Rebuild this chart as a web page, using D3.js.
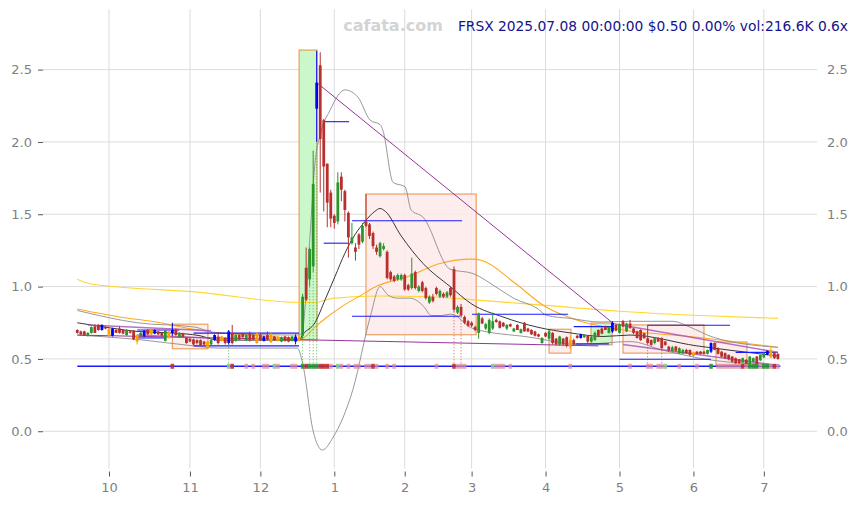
<!DOCTYPE html>
<html><head><meta charset="utf-8">
<script src="https://cdn.jsdelivr.net/npm/d3@7"></script>
<style>
html,body{margin:0;padding:0;background:#fff;}
svg{display:block;font-family:"DejaVu Sans",sans-serif;}
</style></head>
<body><svg id="c" width="858" height="505"></svg>
<script>
// ---------------- data ----------------
const monthLabels = ["10","11","12","1","2","3","4","5","6","7"];
const monthIdx    = [9,32,52,73,93,112,133,154,175,195];
const yTicks = [0,0.5,1.0,1.5,2.0,2.5];

const kind = "rrrggrrbro" + "brrrgrrogb" + "robrrgobrg" + "rrrrrrrogb" + "rorbrgrrgr" + "rorbrorogr" + "rgbo"
           + "grggbrrrrr" + "grrrgrrgrr" + "rrggrrrggr" + "rgrgrrgrrg" + "rgrrgrrrrr"
           + "grgggrrrgr" + "grgrrrrrgr" + "grrgrrorrb" + "grggrrrgbr" + "grgrrr"
           + "rrrrgrrrrg" + "rggrrorrrg" + "b"
           + "rrrrrrrrgr" + "ggrggborr";
const open  = [0.70,0.69,0.69,0.66,0.68,0.725,0.735,0.70,0.72,0.71,0.66,0.70,0.71,0.70,0.665,0.69,0.695,0.665,0.66,0.66,0.70,0.70,0.675,0.69,0.68,0.625,0.69,0.68,0.70,0.65,0.675,0.645,0.64,0.635,0.63,0.63,0.62,0.62,0.60,0.63,0.655,0.655,0.645,0.61,0.68,0.625,0.665,0.675,0.63,0.675,0.665,0.678,0.665,0.655,0.665,0.672,0.655,0.654,0.62,0.655,0.65,0.625,0.62,0.655,
  0.66,1.13,1.05,1.14,2.23,2.53,2.15,1.85,1.65,1.49,1.45,1.76,1.66,1.51,1.30,1.27,1.36,1.31,1.45,1.43,1.37,1.27,1.21,1.26,1.24,1.10,1.07,1.05,1.05,1.08,1.01,0.99,1.10,0.97,1.03,0.99,0.89,0.93,0.99,0.93,0.95,0.93,0.99,1.12,0.82,0.86,0.79,0.76,0.75,0.72,
  0.68,0.78,0.71,0.68,0.71,0.77,0.76,0.75,0.71,0.74,0.69,0.735,0.68,0.75,0.71,0.70,0.69,0.67,0.61,0.68,0.64,0.68,0.64,0.60,0.64,0.65,0.63,0.63,0.66,0.645,0.65,0.66,0.62,0.63,0.70,0.71,0.725,0.68,0.69,0.735,0.68,0.76,0.69,0.745,0.71,0.69,
  0.70,0.678,0.643,0.63,0.61,0.643,0.643,0.62,0.585,0.555,0.585,0.54,0.54,0.562,0.562,0.544,0.55,0.55,0.55,0.535,0.55,
  0.61,0.574,0.55,0.54,0.528,0.516,0.505,0.498,0.475,0.493,0.466,0.48,0.516,0.49,0.51,0.53,0.51,0.54,0.535];
const high  = [0.705,0.695,0.695,0.685,0.725,0.74,0.74,0.74,0.73,0.715,0.715,0.705,0.725,0.705,0.705,0.70,0.70,0.67,0.685,0.70,0.705,0.705,0.705,0.695,0.685,0.70,0.695,0.75,0.71,0.685,0.68,0.65,0.645,0.64,0.635,0.635,0.625,0.625,0.635,0.67,0.685,0.66,0.65,0.70,0.735,0.67,0.67,0.68,0.67,0.69,0.67,0.685,0.675,0.66,0.69,0.68,0.66,0.66,0.655,0.66,0.655,0.66,0.67,0.66,
  0.95,1.27,1.27,1.94,2.63,2.62,2.16,1.85,1.67,1.50,1.79,1.79,1.67,1.52,1.44,1.30,1.37,1.44,1.64,1.44,1.38,1.29,1.31,1.30,1.25,1.11,1.08,1.09,1.09,1.09,1.02,1.20,1.11,1.01,1.04,1.00,0.94,0.95,1.00,0.98,0.96,0.97,1.00,1.14,0.87,0.88,0.80,0.77,0.76,0.73,
  0.82,0.79,0.75,0.78,0.82,0.78,0.765,0.755,0.74,0.745,0.715,0.74,0.71,0.755,0.715,0.705,0.695,0.675,0.65,0.685,0.70,0.685,0.645,0.66,0.645,0.655,0.66,0.64,0.665,0.675,0.67,0.665,0.66,0.69,0.705,0.72,0.73,0.725,0.76,0.74,0.745,0.77,0.75,0.77,0.715,0.695,
  0.705,0.68,0.735,0.635,0.65,0.65,0.65,0.625,0.59,0.59,0.59,0.58,0.57,0.57,0.565,0.55,0.555,0.555,0.555,0.565,0.615,
  0.615,0.58,0.555,0.545,0.53,0.52,0.51,0.50,0.51,0.50,0.52,0.51,0.52,0.53,0.545,0.56,0.59,0.545,0.54];
const low   = [0.675,0.665,0.66,0.655,0.675,0.68,0.695,0.695,0.705,0.655,0.655,0.68,0.675,0.67,0.66,0.675,0.63,0.60,0.655,0.65,0.665,0.665,0.67,0.665,0.655,0.62,0.64,0.66,0.66,0.645,0.65,0.605,0.615,0.595,0.60,0.59,0.59,0.57,0.595,0.625,0.60,0.62,0.60,0.60,0.60,0.62,0.63,0.645,0.625,0.62,0.63,0.605,0.625,0.62,0.63,0.61,0.625,0.62,0.615,0.62,0.615,0.62,0.60,0.62,
  0.64,0.90,1.00,1.10,2.00,1.65,1.52,1.41,1.41,1.40,1.43,1.59,1.45,1.20,1.29,1.18,1.26,1.30,1.41,1.33,1.26,1.22,1.20,1.25,1.05,1.04,1.03,1.04,1.04,0.97,0.97,0.98,0.98,0.96,0.96,0.91,0.88,0.89,0.94,0.92,0.92,0.92,0.93,0.82,0.81,0.79,0.74,0.72,0.72,0.69,
  0.64,0.74,0.70,0.67,0.70,0.75,0.71,0.72,0.70,0.72,0.685,0.70,0.675,0.69,0.685,0.665,0.655,0.65,0.605,0.65,0.635,0.60,0.595,0.59,0.595,0.58,0.57,0.595,0.64,0.64,0.645,0.60,0.615,0.625,0.65,0.67,0.70,0.675,0.68,0.69,0.675,0.72,0.685,0.71,0.67,0.64,
  0.625,0.64,0.60,0.59,0.60,0.62,0.57,0.59,0.55,0.55,0.55,0.535,0.535,0.535,0.52,0.51,0.53,0.53,0.53,0.53,0.54,
  0.56,0.53,0.51,0.50,0.49,0.475,0.465,0.465,0.47,0.455,0.46,0.475,0.455,0.485,0.505,0.525,0.505,0.50,0.495];
const close = [0.68,0.67,0.665,0.68,0.72,0.68,0.70,0.735,0.71,0.66,0.71,0.68,0.68,0.675,0.70,0.68,0.635,0.62,0.68,0.695,0.67,0.67,0.70,0.67,0.66,0.695,0.645,0.70,0.665,0.68,0.652,0.61,0.62,0.60,0.61,0.595,0.60,0.575,0.63,0.665,0.61,0.625,0.61,0.69,0.61,0.665,0.635,0.65,0.665,0.63,0.635,0.61,0.63,0.625,0.635,0.615,0.63,0.625,0.65,0.625,0.62,0.655,0.655,0.625,
  0.93,0.91,1.26,1.71,2.41,2.02,1.83,1.58,1.47,1.44,1.72,1.67,1.53,1.34,1.34,1.24,1.29,1.42,1.42,1.35,1.28,1.24,1.30,1.28,1.06,1.05,1.04,1.08,1.08,0.98,0.98,1.09,0.99,1.00,0.97,0.92,0.93,0.90,0.95,0.97,0.93,0.96,0.94,0.84,0.86,0.80,0.75,0.73,0.73,0.70,
  0.815,0.745,0.74,0.77,0.76,0.755,0.715,0.725,0.735,0.725,0.71,0.70,0.705,0.69,0.69,0.67,0.66,0.655,0.645,0.655,0.69,0.61,0.60,0.655,0.60,0.59,0.585,0.60,0.645,0.67,0.666,0.62,0.65,0.68,0.66,0.675,0.70,0.72,0.75,0.695,0.74,0.725,0.745,0.712,0.68,0.645,
  0.63,0.643,0.61,0.597,0.643,0.62,0.574,0.597,0.56,0.58,0.557,0.574,0.562,0.54,0.528,0.52,0.535,0.535,0.535,0.562,0.61,
  0.562,0.535,0.516,0.505,0.498,0.481,0.47,0.47,0.505,0.46,0.516,0.505,0.46,0.528,0.54,0.555,0.56,0.505,0.50];

// moving averages / bands: [index, value]
const ma200 = [[0,1.05],[3.6,1.02],[35,0.96],[63,0.89],[67,0.89],[73,0.92],[86,0.935],[100,0.93],[112,0.91],[133,0.87],[154,0.83],[177,0.80],[199,0.78]];
const ma50  = [[0,0.845],[12,0.79],[21,0.76],[37,0.69],[52,0.66],[63,0.64],[64.5,0.65],[67.5,0.72],[71,0.79],[75,0.86],[82,0.96],[84,0.99],[94,1.07],[103,1.16],[112,1.19],[115,1.18],[124,1.03],[133,0.86],[143,0.76],[155,0.70],[176,0.65],[199,0.58]];
const ma20  = [[0,0.75],[9.2,0.715],[17,0.69],[26.3,0.68],[34.9,0.66],[37,0.645],[40,0.63],[63,0.63],[64.1,0.67],[67.5,0.75],[70.4,0.91],[73.2,1.07],[76,1.23],[78.9,1.36],[81.7,1.45],[84.5,1.52],[86,1.54],[87.5,1.52],[92,1.35],[98.2,1.16],[105.9,1.0],[112,0.88],[120.9,0.79],[130.6,0.72],[140,0.68],[149.3,0.655],[157,0.665],[176,0.59],[185.4,0.56],[199,0.52]];
const bandUp = [[0,0.835],[17,0.75],[33.4,0.72],[39,0.68],[62.7,0.665],[63.8,0.68],[65,0.95],[66.1,1.35],[67.5,1.85],[69,2.05],[71.8,2.22],[76,2.36],[79.7,2.31],[83.2,2.15],[86,2.12],[86.8,2.08],[89.7,1.72],[93.1,1.69],[94.8,1.53],[98.2,1.48],[105.9,1.12],[112.4,1.09],[120,0.98],[123.9,0.92],[130.6,0.85],[133.4,0.80],[140,0.78],[148.5,0.755],[157,0.76],[169.2,0.76],[174,0.72],[180.6,0.65],[199,0.58]];
const bandLo = [[0,0.665],[17,0.635],[33,0.59],[40,0.575],[62.5,0.575],[64,0.47],[67,0.0],[69.6,-0.13],[72.7,-0.04],[78.3,0.29],[83.2,0.79],[86,1.0],[88.3,0.94],[91,0.92],[94.5,0.92],[98.5,0.86],[100.5,0.80],[103.5,0.80],[106,0.81],[112.4,0.71],[128.6,0.65],[142.8,0.60],[157,0.62],[166.4,0.56],[180.6,0.49],[199,0.46]];

// zones
const boxX0  = [63, 82, 27, 134, 145.9, 155, 181.4];
const boxX1  = [68.1, 113.3, 37.1, 140.2, 151.9, 178, 190.2];
const boxTop = [2.635, 1.64, 0.74, 0.705, 0.748, 0.735, 0.617];
const boxBot = [0.63, 0.667, 0.57, 0.54, 0.597, 0.54, 0.457];
const boxUp  = [true, false, false, false, true, false, false];

// horizontal levels: value, from index, to index
const levelV  = [0.449, 2.14, 1.30, 1.455, 0.795, 0.809, 0.723, 0.604, 0.733, 0.498, 0.545, 0.70, 0.645, 0.678, 0.59];
const levelI0 = [0, 69.8, 70, 78, 78, 112.1, 141, 141.5, 162, 154, 187, 17, 17, 33, 33];
const levelI1 = [199.7, 77.2, 77.2, 109.3, 108.7, 139.4, 152, 151, 185.4, 180, 199, 29, 25, 63, 63];

// trend lines [i0, v0, i1, v1]
const trendLines = [[68,2.41,152,0.75],[0,0.665,148,0.59],[3,0.735,38,0.695],[17,0.665,37,0.645],[152,0.745,199,0.545],[155,0.60,199,0.455]];

// volume signal markers on the 0.45 level: index and kind
const markIdx  = [27,43,44,48,50,53,54,56,57,61,62,64,65,66,67,68,69,70,71,72,74,75,77,79,80,82,83,84,85,88,90,102,107,108,109,110,118,119,120,121,123,140,157,162,163,165,166,167,171,176,180,182,183,184,185,186,187,188,189,190,191,192,193,194,195,196,197,198,199];
const markKind = "rlrpppplpp" + "pgrgggrrrp" + "lpppppprpp" + "pprppplppp" + "ppppppplpp" + "gppppppprp" + "gggpggprp";
// dotted guide lines
const dotIdx  = [43,64,66,67,68,107,109,162,166];
const dotKind = "gggggrrrr";

const titleText = "FRSX 2025.07.08 00:00:00 $0.50 0.00% vol:216.6K 0.6x";

// ---------------- chart ----------------
const svg = d3.select("#c");
const x = d3.scaleLinear().domain([-9.74, 210.1]).range([43, 817]);
const y = d3.scaleLinear().domain([-0.27, 2.91]).range([470.3, 10.3]);
const yTop = y(2.91), yBot = 468.5;

svg.append("rect").attr("width",858).attr("height",505).attr("fill","#fff");

// grid
const g = svg.append("g");
g.selectAll("line.vg").data(monthIdx).join("line")
  .attr("x1",d=>x(d)).attr("x2",d=>x(d)).attr("y1",yTop-1).attr("y2",yBot)
  .attr("stroke","#dcdcdc").attr("stroke-width",1);
g.selectAll("line.hg").data(yTicks).join("line")
  .attr("x1",43).attr("x2",817).attr("y1",d=>y(d)).attr("y2",d=>y(d))
  .attr("stroke","#dcdcdc").attr("stroke-width",1);

// axes
const fmt = d3.format(".1f");
const ax = svg.append("g").attr("transform","translate(0,471.5)")
  .call(d3.axisBottom(x).tickValues(monthIdx).tickFormat((d,i)=>monthLabels[i]).tickSize(5).tickPadding(6.5));
const al = svg.append("g").attr("transform","translate(43,0)")
  .call(d3.axisLeft(y).tickValues(yTicks).tickFormat(fmt).tickSize(5).tickPadding(6));
const ar = svg.append("g").attr("transform","translate(817,0)")
  .call(d3.axisRight(y).tickValues(yTicks).tickFormat(fmt).tickSize(0).tickPadding(10));
[ax,al,ar].forEach(a=>{
  a.select(".domain").remove();
  a.selectAll(".tick line").attr("stroke","#555").attr("stroke-width",1);
  a.selectAll(".tick text").attr("fill","#7f7f7f").style("font-size","13px").style("font-family","DejaVu Sans");
});

// zones
svg.append("g").selectAll("rect").data(boxX0).join("rect")
  .attr("x",(d,i)=>x(boxX0[i])).attr("width",(d,i)=>x(boxX1[i])-x(boxX0[i]))
  .attr("y",(d,i)=>y(boxTop[i])).attr("height",(d,i)=>y(boxBot[i])-y(boxTop[i]))
  .attr("fill",(d,i)=>boxUp[i]?"#c8f8c8":"#fdeaea").attr("fill-opacity",(d,i)=>boxUp[i]?0.95:0.85)
  .attr("stroke","#e8904a").attr("stroke-opacity",0.85).attr("stroke-width",1.2);

// lines
const line = d3.line().x(d=>x(d[0])).y(d=>y(d[1])).curve(d3.curveMonotoneX);
const series = [[ma200,"#ffd21f",1.1,0.9],[ma50,"#ffa820",1.1,1],[bandUp,"#8c8c8c",0.9,1],[bandLo,"#8c8c8c",0.9,1],[ma20,"#222",0.9,1]];
series.forEach(s=>svg.append("path").attr("d",line(s[0])).attr("fill","none")
  .attr("stroke",s[1]).attr("stroke-width",s[2]).attr("stroke-opacity",s[3]));

// levels
svg.append("g").selectAll("line").data(levelV).join("line")
  .attr("x1",(d,i)=>x(levelI0[i])).attr("x2",(d,i)=>x(levelI1[i]))
  .attr("y1",d=>y(d)).attr("y2",d=>y(d))
  .attr("stroke","#1a1aff").attr("stroke-width",(d,i)=>i===0?1.4:1.1);

// trend lines
svg.append("g").selectAll("line").data(trendLines).join("line")
  .attr("x1",d=>x(d[0])).attr("y1",d=>y(d[1])).attr("x2",d=>x(d[2])).attr("y2",d=>y(d[3]))
  .attr("stroke",(d,i)=>i<2?"#8e2a92":"#a550b8").attr("stroke-width",(d,i)=>i<2?1:1.5).attr("stroke-opacity",(d,i)=>i<2?0.95:0.8);

// dotted guides
svg.append("g").selectAll("line").data(dotIdx).join("line")
  .attr("x1",d=>x(d)).attr("x2",d=>x(d)).attr("y1",y(levelV[0])).attr("y2",d=>y(low[d]))
  .attr("stroke",(d,i)=>dotKind[i]==="g"?"#2ca02c":"#c03030").attr("stroke-width",1)
  .attr("stroke-dasharray","1,2").attr("stroke-opacity",0.8);

// candles
const col = {r:"#b8302e", g:"#2c962c", b:"#0000ff", o:"#ffa000"};
const idx = d3.range(open.length);
const cg = svg.append("g");
cg.selectAll("line").data(idx).join("line")
  .attr("x1",i=>x(i)).attr("x2",i=>x(i)).attr("y1",i=>y(high[i])).attr("y2",i=>y(low[i]))
  .attr("stroke",i=>col[kind[i]]).attr("stroke-width",1);
cg.selectAll("rect").data(idx).join("rect")
  .attr("x",i=>x(i)-1.4).attr("width",2.8)
  .attr("y",i=>y(Math.max(open[i],close[i])))
  .attr("height",i=>Math.max(1,Math.abs(y(open[i])-y(close[i]))))
  .attr("fill",i=>col[kind[i]]);

// markers
const mcol = {r:"#c0302e", p:"#e08a98", g:"#2c962c", l:"#8cc88c"};
svg.append("g").selectAll("rect").data(markIdx).join("rect")
  .attr("x",d=>x(d)-1.8).attr("width",3.6)
  .attr("y",y(levelV[0])-2.5).attr("height",5)
  .attr("fill",(d,i)=>mcol[markKind[i]]).attr("fill-opacity",(d,i)=>markKind[i]==="p"?0.75:0.9);

// texts
svg.append("text").attr("x",393).attr("y",31).attr("text-anchor","middle")
  .attr("fill","#d4d4d4").style("font-size","16px").style("font-weight","bold").text("cafata.com");
svg.append("text").attr("x",848).attr("y",31).attr("text-anchor","end")
  .attr("fill","#14148c").style("font-size","13.8px").text(titleText);
</script></body></html>
